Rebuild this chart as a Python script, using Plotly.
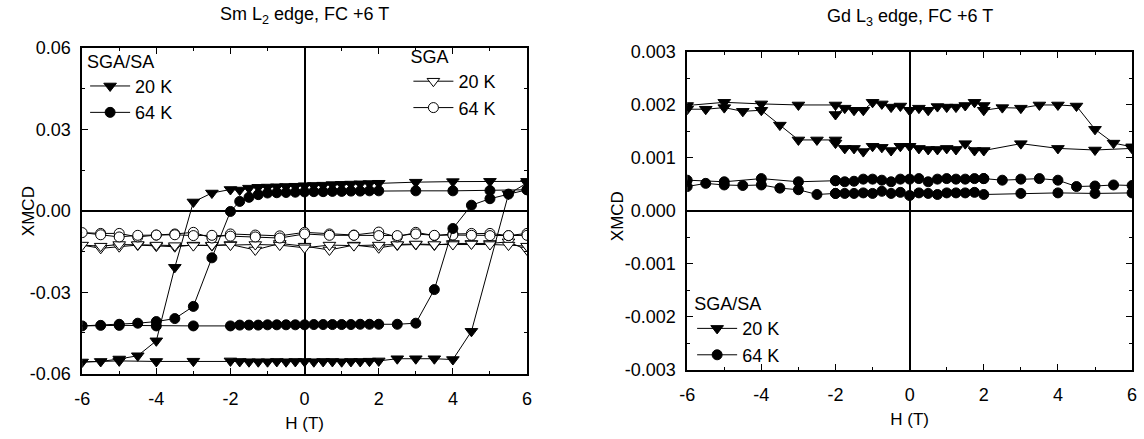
import plotly.graph_objects as go

# ---------------- Left panel: Sm L2 edge ----------------
# SGA/SA 20 K loop (descending 6 -> -6, then ascending -6 -> 6)
sm20_h = [6, 5, 4, 3, 2, 1.75, 1.5, 1.25, 1, 0.75, 0.5, 0.25, 0, -0.25, -0.5, -0.75, -1, -1.25, -1.5, -1.75, -2,
          -2.5, -3, -3.5, -4, -4.5, -5, -5.5, -6,
          -5, -4, -3, -2, -1.75, -1.5, -1.25, -1, -0.75, -0.5, -0.25, 0, 0.25, 0.5, 0.75, 1, 1.25, 1.5, 1.75, 2,
          2.5, 3, 3.5, 4, 4.5, 5.5, 6]
sm20_v = [0.0109, 0.0109, 0.0108, 0.0106, 0.0102, 0.0101, 0.0100, 0.0099, 0.0098, 0.0097, 0.0095, 0.0094, 0.0093,
          0.0091, 0.0090, 0.0089, 0.0088, 0.0087, 0.0084, 0.0077, 0.0079,
          0.0066, 0.0033, -0.0208, -0.0479, -0.0534, -0.0546, -0.0555, -0.0557,
          -0.0553, -0.0555, -0.0554, -0.0553, -0.0555, -0.0556, -0.0556, -0.0556, -0.0555, -0.0556, -0.0555, -0.0555,
          -0.0556, -0.0555, -0.0555, -0.0556, -0.0555, -0.0555, -0.0554, -0.0553,
          -0.0545, -0.0545, -0.0545, -0.0548, -0.0444, 0.0062, 0.0103]

# SGA/SA 64 K loop
sm64_h = [6, 5, 4, 3, 2, 1.75, 1.5, 1.25, 1, 0.75, 0.5, 0.25, 0, -0.25, -0.5, -0.75, -1, -1.25, -1.5, -1.75, -2,
          -2.5, -3, -3.5, -4, -4.5, -5, -5.5, -6,
          -5, -4, -3, -2, -1.75, -1.5, -1.25, -1, -0.75, -0.5, -0.25, 0, 0.25, 0.5, 0.75, 1, 1.25, 1.5, 1.75, 2,
          2.5, 3, 3.5, 4, 4.5, 5, 5.5, 6]
sm64_v = [0.0078, 0.0075, 0.0074, 0.0074, 0.0074, 0.0074, 0.0073, 0.0073, 0.0072, 0.0072, 0.0071, 0.0071, 0.0070,
          0.0069, 0.0068, 0.0067, 0.0066, 0.0060, 0.0050, 0.0035, -0.0002,
          -0.0173, -0.0352, -0.0397, -0.0408, -0.0414, -0.0418, -0.0422, -0.0424,
          -0.0422, -0.0424, -0.0424, -0.0424, -0.0421, -0.0421, -0.0421, -0.0420, -0.0420, -0.0420, -0.0420, -0.0420,
          -0.0419, -0.0419, -0.0419, -0.0419, -0.0419, -0.0418, -0.0418, -0.0418,
          -0.0418, -0.0414, -0.0290, -0.0065, 0.0021, 0.0045, 0.0062, 0.0078]

# SGA 20 K and 64 K (open symbols), descending then ascending
sga_h = [6, 5.5, 5, 4.5, 4, 3.5, 3, 2.5, 2, 1.33, 0.67, 0, -0.67, -1.33, -2, -2.5, -3, -3.5, -4, -4.5, -5, -5.5, -6,
         -5.5, -5, -4.5, -4, -3.5, -3, -2.5, -2, -1.33, -0.67, 0, 0.67, 1.33, 2, 2.5, 3, 3.5, 4, 4.5, 5, 5.5, 6]
sga20_v = [-0.0144, -0.0114, -0.0120, -0.0120, -0.0120, -0.0126, -0.0124, -0.0126, -0.0136, -0.0126, -0.0144,
           -0.0130, -0.0120, -0.0144, -0.0124, -0.0128, -0.0126, -0.0132, -0.0130, -0.0126, -0.0132, -0.0138, -0.0126,
           -0.0130, -0.0124, -0.0124, -0.0126, -0.0128, -0.0128, -0.0126, -0.0126, -0.0124, -0.0126, -0.0136,
           -0.0126, -0.0128, -0.0126, -0.0124, -0.0122, -0.0124, -0.0124, -0.0122, -0.0124, -0.0126, -0.0130]
sga64_v = [-0.0083, -0.0091, -0.0083, -0.0083, -0.0085, -0.0091, -0.0079, -0.0096, -0.0078, -0.0089, -0.0085,
           -0.0079, -0.0092, -0.0089, -0.0085, -0.0100, -0.0079, -0.0085, -0.0089, -0.0096, -0.0083, -0.0083, -0.0080,
           -0.0088, -0.0096, -0.0090, -0.0089, -0.0088, -0.0091, -0.0090, -0.0093, -0.0096, -0.0100, -0.0085,
           -0.0090, -0.0090, -0.0091, -0.0091, -0.0085, -0.0090, -0.0089, -0.0090, -0.0091, -0.0091, -0.0090]

# ---------------- Right panel: Gd L3 edge ----------------
gd_h = [6, 5, 4, 3, 2, 1.75, 1.5, 1.25, 1, 0.75, 0.5, 0.25, 0, -0.25, -0.5, -0.75, -1, -1.25, -1.5, -1.75, -2, -2,
        -2.5, -3, -3.5, -4, -4.5, -5, -5.5, -6,
        -6, -5, -4, -3, -2, -2, -1.75, -1.5, -1.25, -1, -0.75, -0.5, -0.25, 0, 0.25, 0.5, 0.75, 1, 1.25, 1.5, 1.75,
        2, 2, 2.5, 3, 3.5, 4, 4.5, 5, 5.5, 6]
gd20_v = [0.00118, 0.00115, 0.00118, 0.00127, 0.00114, 0.00114, 0.00127, 0.00116, 0.00118, 0.00116, 0.00116,
          0.00118, 0.00122, 0.00122, 0.00114, 0.00120, 0.00122, 0.00112, 0.00118, 0.00118, 0.00128, 0.00134,
          0.00134, 0.00134, 0.00162, 0.00190, 0.00188, 0.00195, 0.00192, 0.00192,
          0.00199, 0.00205, 0.00202, 0.00200, 0.00200, 0.00182, 0.00194, 0.00190, 0.00190, 0.00205, 0.00202,
          0.00196, 0.00198, 0.00190, 0.00194, 0.00190, 0.00197, 0.00196, 0.00196, 0.00199, 0.00205,
          0.00199, 0.00190, 0.00195, 0.00194, 0.00200, 0.00200, 0.00198, 0.00154, 0.00128, 0.00121]
gd64_v = [0.00034, 0.00033, 0.00034, 0.00033, 0.00031, 0.00035, 0.00034, 0.00034, 0.00034, 0.00031, 0.00033,
          0.00034, 0.00029, 0.00035, 0.00033, 0.00037, 0.00033, 0.00034, 0.00033, 0.00033, 0.00033, 0.00033,
          0.00031, 0.00040, 0.00043, 0.00049, 0.00048, 0.00049, 0.00052, 0.00046,
          0.00058, 0.00055, 0.00061, 0.00055, 0.00057, 0.00057, 0.00055, 0.00056, 0.00060, 0.00060, 0.00058,
          0.00055, 0.00060, 0.00060, 0.00061, 0.00055, 0.00060, 0.00061, 0.00060, 0.00060, 0.00061,
          0.00061, 0.00061, 0.00058, 0.00060, 0.00061, 0.00058, 0.00046, 0.00047, 0.00049, 0.00048]

# tick labels
x_ticks = [-6, -4, -2, 0, 2, 4, 6]
x_ticktext = ["-6", "-4", "-2", "0", "2", "4", "6"]
left_y_ticks = [-0.06, -0.03, 0.0, 0.03, 0.06]
left_y_ticktext = ["-0.06", "-0.03", "0.00", "0.03", "0.06"]
right_y_ticks = [-0.003, -0.002, -0.001, 0.0, 0.001, 0.002, 0.003]
right_y_ticktext = ["-0.003", "-0.002", "-0.001", "0.000", "0.001", "0.002", "0.003"]

FONT = "Liberation Sans, Arial, sans-serif"
W, H = 1144, 439

fig = go.Figure()

line_style = dict(color="black", width=1)

def add(x, y, name, symbol, filled, xa, ya, legend, size):
    fig.add_trace(go.Scatter(
        x=x, y=y, name=name, mode="lines+markers",
        line=line_style,
        marker=dict(symbol=symbol, size=size,
                    color="black" if filled else "white",
                    line=dict(color="black", width=1)),
        xaxis=xa, yaxis=ya, legend=legend))

# draw SGA first (behind)
add(sga_h, sga20_v, "20 K", "triangle-down", False, "x", "y", "legend2", 11)
add(sga_h, sga64_v, "64 K", "circle", False, "x", "y", "legend2", 10)
add(sm20_h, sm20_v, "20 K", "triangle-down", True, "x", "y", "legend", 11)
add(sm64_h, sm64_v, "64 K", "circle", True, "x", "y", "legend", 10)
add(gd_h, gd20_v, "20 K", "triangle-down", True, "x2", "y2", "legend3", 11)
add(gd_h, gd64_v, "64 K", "circle", True, "x2", "y2", "legend3", 10)

def px_x(p):
    return p / W

def px_y(p):
    return 1 - p / H

axis_common = dict(
    showline=True, linecolor="black", linewidth=1.5, mirror="ticks",
    ticks="inside", ticklen=6, tickwidth=1, tickcolor="black",
    showgrid=False, zeroline=True, zerolinecolor="black", zerolinewidth=2,
    tickfont=dict(family=FONT, size=18, color="black"),
)

title_font = dict(family=FONT, size=17, color="black")
leg_font = dict(family=FONT, size=18, color="black")

fig.update_layout(
    width=W, height=H,
    margin=dict(l=0, r=0, t=0, b=0),
    paper_bgcolor="white", plot_bgcolor="white",
    font=dict(family=FONT, color="black"),
    xaxis=dict(domain=[px_x(75), px_x(525)], range=[-6, 6], anchor="y",
               tickvals=x_ticks, ticktext=x_ticktext, ticklabelstandoff=8,
               minor=dict(ticks="inside", ticklen=3, dtick=1, tick0=0, tickcolor="black"),
               title=dict(text="H (T)", font=title_font, standoff=9),
               **axis_common),
    yaxis=dict(domain=[px_y(381), px_y(40)], range=[-0.06, 0.06], anchor="x",
               tickvals=left_y_ticks, ticktext=left_y_ticktext, ticklabelstandoff=6,
               minor=dict(ticks="inside", ticklen=3, dtick=0.015, tick0=0, tickcolor="black"),
               **axis_common),
    xaxis2=dict(domain=[px_x(687), px_x(1137)], range=[-6, 6], anchor="y2",
                tickvals=x_ticks, ticktext=x_ticktext, ticklabelstandoff=8,
                minor=dict(ticks="inside", ticklen=3, dtick=1, tick0=0, tickcolor="black"),
                title=dict(text="H (T)", font=title_font, standoff=9),
                **axis_common),
    yaxis2=dict(domain=[px_y(377), px_y(44)], range=[-0.003, 0.003], anchor="x2",
                tickvals=right_y_ticks, ticktext=right_y_ticktext, ticklabelstandoff=6,
                minor=dict(ticks="inside", ticklen=3, dtick=0.0005, tick0=0, tickcolor="black"),
                **axis_common),
    legend=dict(x=px_x(78), y=px_y(36), xanchor="left", yanchor="top",
                bgcolor="rgba(0,0,0,0)", itemwidth=40,
                title=dict(text="SGA/SA", font=leg_font),
                font=leg_font, tracegroupgap=0),
    legend2=dict(x=px_x(405), y=px_y(31), xanchor="left", yanchor="top",
                 bgcolor="rgba(0,0,0,0)", itemwidth=40,
                 title=dict(text="SGA", font=leg_font),
                 font=leg_font, tracegroupgap=0),
    legend3=dict(x=px_x(692), y=px_y(290), xanchor="left", yanchor="top",
                 bgcolor="rgba(0,0,0,0)", itemwidth=40,
                 title=dict(text="SGA/SA", font=leg_font),
                 font=leg_font, tracegroupgap=0),
    annotations=[
        dict(text="Sm L<sub>2</sub> edge, FC +6 T", x=px_x(300), y=px_y(6), xref="paper", yref="paper",
             showarrow=False, font=dict(family=FONT, size=18, color="black"), xanchor="center", yanchor="middle"),
        dict(text="Gd L<sub>3</sub> edge, FC +6 T", x=px_x(912), y=px_y(8), xref="paper", yref="paper",
             showarrow=False, font=dict(family=FONT, size=18, color="black"), xanchor="center", yanchor="middle"),
        dict(text="XMCD", x=px_x(21), y=px_y(211), xref="paper", yref="paper", textangle=-90,
             showarrow=False, font=title_font, xanchor="center", yanchor="middle"),
        dict(text="XMCD", x=px_x(616), y=px_y(216), xref="paper", yref="paper", textangle=-90,
             showarrow=False, font=title_font, xanchor="center", yanchor="middle"),
    ],
)

fig.write_html("out.html", config={"displayModeBar": False},
               post_script="document.body.style.margin='0';")
